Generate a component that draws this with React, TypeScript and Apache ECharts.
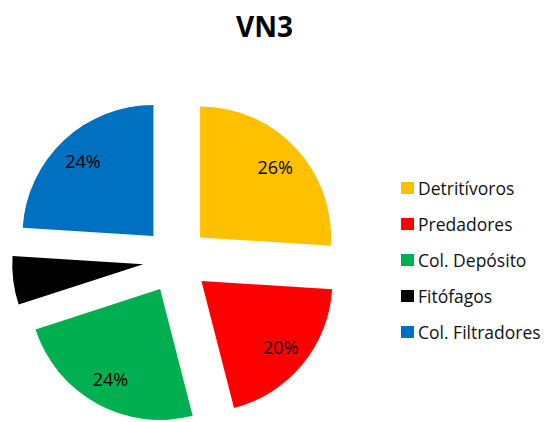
import React, { useEffect, useRef } from "react";
import * as echarts from "echarts";

const categories = ["Detritívoros", "Predadores", "Col. Depósito", "Fitófagos", "Col. Filtradores"];
const values = [26, 20, 24, 6, 24];
const colors = ["#FFC000", "#FF0000", "#00B050", "#000000", "#0070C0"];
const showLabel = [true, true, true, false, true];

export default function App() {
  const ref = useRef<HTMLDivElement>(null);
  useEffect(() => {
    if (!ref.current) return;
    const chart = echarts.init(ref.current, undefined, { renderer: "svg" });
    const center = [176, 260];
    const offset = 33;
    const option = {
      animation: false,
      backgroundColor: "#ffffff",
      title: {
        text: "VN3",
        left: 231,
        top: 7,
        textStyle: { fontFamily: "Open Sans", fontWeight: "bold", fontSize: 28, color: "#000" },
      },
      legend: {
        orient: "vertical",
        left: 396,
        top: 174,
        itemWidth: 13,
        itemHeight: 12,
        itemGap: 18,
        icon: "rect",
        selectedMode: false,
        data: categories.map((n, i) => ({ name: n, itemStyle: { color: colors[i] } })),
        textStyle: { fontFamily: "Open Sans", fontSize: 17.5, color: "#111", lineHeight: 18, padding: [0, 0, 0, -1] },
      },
      series: [
        {
          type: "pie",
          center,
          radius: [0, 131],
          startAngle: 90,
          clockwise: true,
          selectedMode: "multiple",
          selectedOffset: offset,
          silent: true,
          emphasis: { disabled: true },
          label: { show: false },
          labelLine: { show: false },
          data: categories.map((n, i) => ({
            name: n,
            value: values[i],
            selected: true,
            itemStyle: { color: colors[i] },
          })),
        },
        {
          type: "pie",
          center,
          radius: [69, 131],
          startAngle: 90,
          clockwise: true,
          selectedMode: "multiple",
          selectedOffset: offset,
          silent: true,
          z: 3,
          emphasis: { disabled: true },
          itemStyle: { color: "rgba(0,0,0,0)" },
          labelLine: { show: false },
          label: {
            show: true,
            position: "inside",
            formatter: (p: any) => p.value + "%",
            fontFamily: "Open Sans",
            fontSize: 18,
            color: "#000",
          },
          data: categories.map((n, i) => ({
            name: n,
            value: values[i],
            selected: true,
            label: { show: showLabel[i] },
          })),
        },
      ],
    };
    chart.setOption(option as any);
    return () => chart.dispose();
  }, []);
  return (
    <div
      ref={ref}
      style={{ position: "absolute", left: 0, top: 0, width: 547, height: 422 }}
    />
  );
}
